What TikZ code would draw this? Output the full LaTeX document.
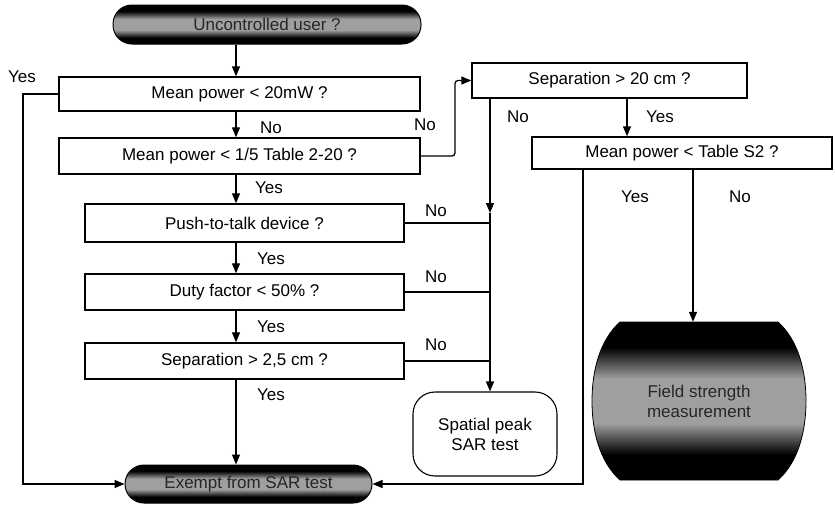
\documentclass[tikz,border=0pt]{standalone}
\usepackage{fontspec}
\setmainfont{Liberation Sans}
\usetikzlibrary{arrows.meta,calc}
\pgfdeclareverticalshading{band}{100bp}{color(0bp)=(black); color(33bp)=(black); color(43bp)=(gray!75); color(57bp)=(gray!75); color(67bp)=(black); color(100bp)=(black)}
\begin{document}
\begin{tikzpicture}[x=1pt,y=-1pt, font=\fontsize{17}{20}\selectfont,
  box/.style={draw, line width=1.4pt, rectangle, inner sep=0pt},
  conn/.style={line width=1.3pt},
  arr/.style={conn, -{Triangle[length=10pt,width=8pt]}},
  term/.style={rectangle, rounded corners=19pt, shading=band, draw=black, line width=1pt, inner sep=0pt, text=black!85},
  lbl/.style={inner sep=0pt}]
\useasboundingbox (0,0) rectangle (835,506);

% nodes
\node[term, minimum width=308pt, minimum height=39pt] (top) at (267,24.5) {Uncontrolled user ?};
\node[box, minimum width=361pt, minimum height=34pt] (b1) at (239.5,94) {Mean power < 20mW ?};
\node[box, minimum width=361pt, minimum height=36pt] (b2) at (239.5,156) {Mean power < 1/5 Table 2-20 ?};
\node[box, minimum width=319pt, minimum height=38pt] (b3) at (244.5,223) {Push-to-talk device ?};
\node[box, minimum width=319pt, minimum height=36pt] (b4) at (244.5,292) {Duty factor < 50\% ?};
\node[box, minimum width=319pt, minimum height=36pt] (b5) at (244.5,361) {Separation > 2,5 cm ?};
\node[box, minimum width=275pt, minimum height=35pt] (s20) at (609.5,80.5) {Separation > 20 cm ?};
\node[box, minimum width=300pt, minimum height=32pt] (s2) at (682,153) {Mean power < Table S2 ?};
\node[draw, line width=1.1pt, rectangle, rounded corners=22pt, minimum width=144pt, minimum height=84pt, align=center, inner sep=0pt] (sp) at (485,434) {Spatial peak\\SAR test};
\node[term, minimum width=247pt, minimum height=38pt] (bot) at (248.5,484) {Exempt from SAR test};

% barrel shape
\path[shading=band, draw=black, line width=0.8pt]
  (620,322) -- (778,322) .. controls (798,340) and (806,370) .. (806,401)
  .. controls (806,432) and (798,462) .. (778,480) -- (620,480)
  .. controls (600,462) and (592,432) .. (592,401)
  .. controls (592,370) and (600,340) .. (620,322) -- cycle;
\node[minimum width=213pt, minimum height=158pt, inner sep=0pt, align=center, text=black!85] (mpe) at (699,401) {Field strength\\measurement};

% axis coordinates
\coordinate (ax) at (236,0);
\coordinate (lx) at (23,0);
\coordinate (jx) at (455,0);
\coordinate (vx) at (490,0);
\coordinate (mid) at (490,213);
\coordinate (yx) at (627,0);
\coordinate (ex) at (583,0);
\coordinate (nx) at (693,0);

% main column
\draw[arr] (top.south -| ax) -- (b1.north -| ax);
\draw[arr] (b1.south -| ax) -- (b2.north -| ax);
\draw[arr] (b2.south -| ax) -- (b3.north -| ax);
\draw[arr] (b3.south -| ax) -- (b4.north -| ax);
\draw[arr] (b4.south -| ax) -- (b5.north -| ax);
\draw[arr] (b5.south -| ax) -- (bot.north -| ax);

% left yes
\draw[arr] (b1.west) -- (b1.west -| lx) -- (lx |- bot.west) -- (bot.west);

% to separation > 20 cm
\draw[arr, rounded corners=3pt] (b2.east) -- (b2.east -| jx) -- (jx |- s20.west) -- (s20.west);

% No branch to spatial peak
\draw[arr] (s20.south -| vx) -- (mid);
\draw[conn] (mid) -- (b3.east -| vx);
\draw[arr] (b3.east) -- (b3.east -| vx) -- (sp.north -| vx);
\draw[conn] (b4.east) -- (b4.east -| vx);
\draw[conn] (b5.east) -- (b5.east -| vx);

% right part
\draw[arr] (s20.south -| yx) -- (s2.north -| yx);
\draw[arr] (s2.south -| ex) -- (ex |- bot.east) -- (bot.east);
\draw[arr] (s2.south -| nx) -- (mpe.north -| nx);

% labels
\node[lbl] (l1) at (22,77) {Yes};
\node[lbl] (l2) at (271,128) {No};
\node[lbl] (l3) at (425,125) {No};
\node[lbl] (l4) at (269,188) {Yes};
\node[lbl] (l5) at (271,259) {Yes};
\node[lbl] (l6) at (271,327) {Yes};
\node[lbl] (l7) at (271,395) {Yes};
\node[lbl] (l8) at (436,211) {No};
\node[lbl] (l9) at (436,277) {No};
\node[lbl] (l10) at (436,345) {No};
\node[lbl] (l11) at (518,117) {No};
\node[lbl] (l12) at (660,117) {Yes};
\node[lbl] (l13) at (635,197) {Yes};
\node[lbl] (l14) at (740,197) {No};
\end{tikzpicture}
\end{document}
